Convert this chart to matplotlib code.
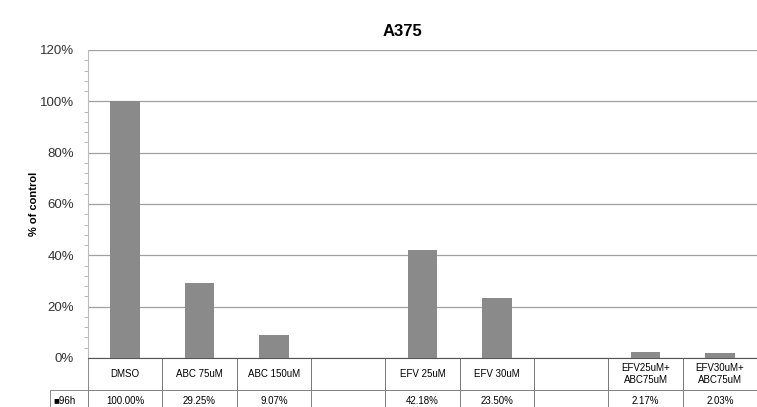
import numpy as np
import matplotlib.pyplot as plt
from matplotlib.ticker import MultipleLocator, PercentFormatter

plt.rcParams['font.family'] = ['Liberation Sans', 'DejaVu Sans']

categories = ['DMSO', 'ABC 75uM', 'ABC 150uM', '', 'EFV 25uM', 'EFV 30uM', '',
              'EFV25uM+\nABC75uM', 'EFV30uM+\nABC75uM']
values = [100.00, 29.25, 9.07, np.nan, 42.18, 23.50, np.nan, 2.17, 2.03]
series_name = '96h'

bar_color = '#8a8a8a'
grid_color = '#a0a0a0'

fig = plt.figure(figsize=(7.57, 4.07), dpi=100)
ax = fig.add_axes([88 / 757, 1 - 358 / 407, 669 / 757, 308 / 407])

x = np.arange(len(categories))
ax.bar(x, np.nan_to_num(values), width=0.4, color=bar_color, zorder=3)

ax.set_xlim(-0.5, len(categories) - 0.5)
ax.set_ylim(0, 120)
ax.yaxis.set_major_locator(MultipleLocator(20))
ax.yaxis.set_minor_locator(MultipleLocator(4))
ax.yaxis.set_major_formatter(PercentFormatter(decimals=0))
ax.tick_params(axis='y', which='major', length=0, labelsize=9.5, pad=10, colors='#333333')
ax.tick_params(axis='y', which='minor', length=3, color='#aaaaaa')
ax.set_xticks([])
ax.grid(axis='y', which='major', color=grid_color, linewidth=0.9, zorder=0)
for s in ['top', 'right']:
    ax.spines[s].set_visible(False)
ax.spines['left'].set_color('#bbbbbb')
ax.spines['bottom'].set_color('#555555')
ax.set_ylabel('% of control', fontsize=8, fontweight='bold', labelpad=1)
ax.set_title('A375', fontsize=12, fontweight='bold', pad=10, x=0.47)

# data table under the axis (Excel style)
cell_vals = ['' if np.isnan(v) else f'{v:.2f}%' for v in values]
col_w = 1 / len(categories)
row_w = 38 / 669
tab = ax.table(cellText=[[''] + categories, ['\u25a0' + series_name] + cell_vals],
               colWidths=[row_w] + [col_w] * len(categories),
               cellLoc='center',
               bbox=[-row_w, -0.175, 1 + row_w, 0.175])
tab.auto_set_font_size(False)
tab.set_fontsize(7)
for (r, c), cell in tab.get_celld().items():
    cell.set_edgecolor('#777777')
    cell.set_linewidth(0.6)
    if r == 0:
        cell.set_height(0.105)
        if c == 0:
            cell.visible_edges = ''
        else:
            cell.visible_edges = 'BLR'
    else:
        cell.set_height(0.07)
tab.get_celld()[(1, 0)].get_text().set_ha('left')

fig.savefig('out.png', dpi=100)
